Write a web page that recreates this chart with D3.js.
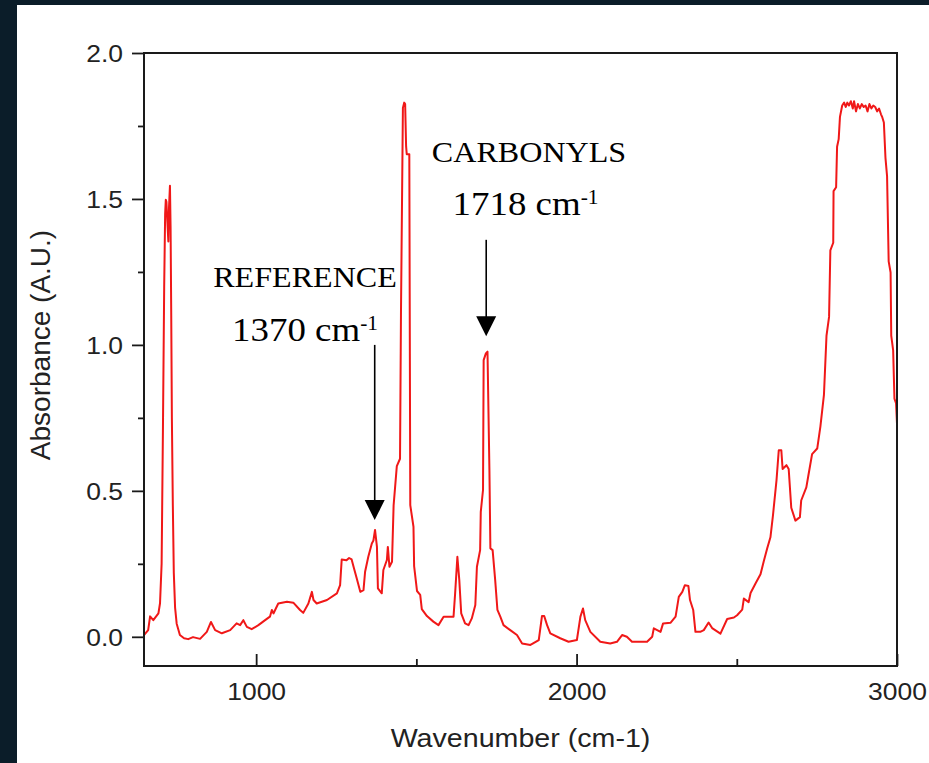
<!DOCTYPE html>
<html>
<head>
<meta charset="utf-8">
<script src="https://cdn.jsdelivr.net/npm/d3@7"></script>
<style>
  html, body { margin: 0; padding: 0; background: #0b1d29; }
  svg { display: block; }
</style>
</head>
<body>
<svg id="chart" width="929" height="763"></svg>
<script>
// ---------- data ----------
const wavenumbers = [
  650,663,669,679,695,700,705,709,713,716,718,720,723,726,728,731,733,735,737,740,743,747,752,762,775,788,803,825,846,859,872,893,919,939,950,960,971,986,
  1007,1028,1043,1049,1054,1069,1096,1116,1137,1147,1163,1174,1179,1189,1221,1252,1262,1267,1282,1290,1298,1304,1314,1325,1335,1340,1350,1361,1366,1371,1377,1380,1392,1397,1408,1411,1416,1424,1429,1439,1449,1452,1458,1462,1465,1468,1470,1478,1481,1491,1493,
  1502,1512,1517,1533,1553,1569,1585,1616,1621,1628,1634,1640,1652,1663,1673,1684,1689,1699,1701,1708,1710,1717,1722,1728,1731,1738,1746,1753,1762,1772,1793,1814,1830,1856,1882,1892,1899,1908,1918,1949,1975,
  2001,2012,2020,2027,2043,2074,2105,2126,2142,2157,2173,2220,2236,2241,2262,2270,2293,2309,2319,2330,2338,2349,2354,2364,2371,2386,2397,2412,2423,2449,2470,2491,
  2501,2517,2522,2537,2543,2558,2574,2584,2595,2605,2613,2624,2631,2639,2643,2655,2662,2670,2683,2697,2701,2717,2723,2735,2751,2761,2772,2780,2788,2792,2801,2802,2810,2813,2818,2822,2829,2835,2840,2845,2850,2856,2862,2866,2872,2878,2884,2890,2896,2902,2908,2914,2920,2926,2932,2938,2944,2950,2954,2959,2964,2969,2974,2980,2982,2988,2992,2997,3000
];
const absorbance = [
  0.006,0.023,0.07,0.057,0.08,0.115,0.25,0.7,1.2,1.45,1.497,1.49,1.42,1.354,1.47,1.545,1.4,1.1,0.75,0.45,0.22,0.1,0.045,0.006,-0.005,-0.008,-0.001,-0.007,0.017,0.051,0.023,0.012,0.023,0.046,0.04,0.057,0.034,0.026,
  0.04,0.057,0.069,0.092,0.08,0.114,0.12,0.117,0.092,0.082,0.114,0.154,0.126,0.114,0.126,0.149,0.177,0.265,0.262,0.27,0.265,0.24,0.2,0.154,0.16,0.223,0.274,0.32,0.33,0.366,0.308,0.166,0.149,0.229,0.263,0.308,0.24,0.257,0.45,0.585,0.61,1.113,1.812,1.83,1.825,1.68,1.653,1.653,0.451,0.377,0.242,
  0.157,0.144,0.095,0.071,0.052,0.04,0.069,0.069,0.149,0.274,0.194,0.08,0.046,0.04,0.063,0.109,0.24,0.297,0.428,0.503,0.948,0.971,0.977,0.571,0.303,0.297,0.194,0.092,0.069,0.04,0.023,0.006,-0.023,-0.028,-0.011,0.071,0.071,0.04,0.012,-0.005,-0.017,
  -0.011,0.069,0.097,0.057,0.017,-0.017,-0.023,-0.017,0.006,0,-0.017,-0.017,0,0.029,0.017,0.046,0.048,0.069,0.137,0.154,0.177,0.174,0.126,0.092,0.017,0.017,0.023,0.049,0.03,0.011,0.061,0.066,
  0.074,0.093,0.131,0.119,0.15,0.182,0.214,0.258,0.303,0.341,0.417,0.537,0.639,0.639,0.575,0.588,0.575,0.442,0.398,0.41,0.467,0.512,0.55,0.626,0.645,0.721,0.829,1.032,1.096,1.324,1.35,1.527,1.54,1.679,1.705,1.781,1.82,1.83,1.815,1.83,1.82,1.835,1.81,1.835,1.80,1.825,1.81,1.825,1.815,1.82,1.80,1.825,1.81,1.82,1.815,1.80,1.81,1.79,1.78,1.762,1.641,1.578,1.286,1.248,1.032,0.981,0.816,0.80,0.73
];
const xMajorTicks = [1000, 2000, 3000];
const xMinorTicks = [1500, 2500];
const yMajorTicks = [0.0, 0.5, 1.0, 1.5, 2.0];
const yMinorTicks = [0.25, 0.75, 1.25, 1.75];
const xTitle = "Wavenumber (cm-1)";
const yTitle = "Absorbance (A.U.)";
// annotations: label lines, arrow x (wavenumber), arrow start/end (absorbance)
const annoLabels = ["CARBONYLS", "REFERENCE"];
const annoWavenumbers = ["1718", "1370"];
const annoArrowX = [1718, 1370];
const annoArrowFrom = [1.36, 1.0];
const annoArrowTo = [1.03, 0.40];

// ---------- layout ----------
const W = 929, H = 763;
const plot = { left: 144, right: 897, top: 53, bottom: 666 };
const STRETCH = 1.08;

const svg = d3.select("#chart");
svg.append("rect").attr("x", 0).attr("y", 0).attr("width", W).attr("height", H).attr("fill", "#0b1d29");
svg.append("rect").attr("x", 17).attr("y", 5).attr("width", W - 17).attr("height", H - 5).attr("fill", "#ffffff");

const x = d3.scaleLinear().domain([650, 3000]).range([plot.left, plot.right]);
const y = d3.scaleLinear().domain([-0.1, 2.0]).range([plot.bottom, plot.top]);

const data = wavenumbers.map((w, i) => ({ w, a: absorbance[i] }));

svg.append("clipPath").attr("id", "clip").append("rect")
  .attr("x", plot.left).attr("y", plot.top)
  .attr("width", plot.right - plot.left).attr("height", plot.bottom - plot.top);

// spectrum
const line = d3.line().x(d => x(d.w)).y(d => y(d.a));
svg.append("path").datum(data)
  .attr("clip-path", "url(#clip)")
  .attr("fill", "none").attr("stroke", "#f01818").attr("stroke-width", 2)
  .attr("stroke-linejoin", "round")
  .attr("d", line);

const axisColor = "#1a1a1a";
const tickFont = "'Liberation Sans', Arial, sans-serif";

// x axis major (inward ticks)
const xAxis = svg.append("g").attr("transform", `translate(0,${plot.bottom})`)
  .call(d3.axisBottom(x).tickValues(xMajorTicks).tickSizeInner(-12).tickSizeOuter(0).tickPadding(17).tickFormat(d3.format("d")));
const xAxisMinor = svg.append("g").attr("transform", `translate(0,${plot.bottom})`)
  .call(d3.axisBottom(x).tickValues(xMinorTicks).tickSizeInner(-7).tickSizeOuter(0).tickFormat(""));

// y axis major (outward)
const yAxis = svg.append("g").attr("transform", `translate(${plot.left},0)`)
  .call(d3.axisLeft(y).tickValues(yMajorTicks).tickSizeInner(12).tickSizeOuter(0).tickPadding(7.5).tickFormat(d3.format(".1f")));
const yAxisMinor = svg.append("g").attr("transform", `translate(${plot.left},0)`)
  .call(d3.axisLeft(y).tickValues(yMinorTicks).tickSizeInner(6).tickSizeOuter(0).tickFormat(""));

[xAxis, xAxisMinor, yAxis, yAxisMinor].forEach(g => {
  g.select(".domain").remove();
  g.selectAll(".tick line").attr("stroke", axisColor).attr("stroke-width", 1.8);
  g.selectAll(".tick text").attr("fill", "#222").attr("font-family", tickFont).attr("font-size", 24.5)
    .attr("transform", `scale(${STRETCH},1)`);
});
xAxis.selectAll(".tick text").attr("dy", "0.71em");
yAxis.selectAll(".tick text").attr("dy", "0.35em");

// frame
svg.append("rect")
  .attr("x", plot.left).attr("y", plot.top)
  .attr("width", plot.right - plot.left).attr("height", plot.bottom - plot.top)
  .attr("fill", "none").attr("stroke", axisColor).attr("stroke-width", 2);

// axis titles
svg.append("text")
  .attr("transform", `translate(${(plot.left + plot.right) / 2},747) scale(${STRETCH},1)`)
  .attr("text-anchor", "middle").attr("font-family", tickFont).attr("font-size", 26.5).attr("fill", "#222")
  .text(xTitle);
svg.append("text")
  .attr("transform", `translate(50,345) rotate(-90)`)
  .attr("text-anchor", "middle").attr("font-family", tickFont).attr("font-size", 28).attr("fill", "#222")
  .text(yTitle);

// annotations
const serif = "'Liberation Serif', 'Times New Roman', serif";
const annoPos = [
  { cx: 529, labelY: 161.7, numY: 215, numCx: 525.5 },
  { cx: 305, labelY: 286.7, numY: 340.7, numCx: 305 }
];
annoLabels.forEach((lab, i) => {
  const p = annoPos[i];
  svg.append("text")
    .attr("transform", `translate(${p.cx},${p.labelY}) scale(1.07,1)`)
    .attr("text-anchor", "middle").attr("font-family", serif).attr("font-size", 30).attr("fill", "#000")
    .text(lab);
  const t = svg.append("text")
    .attr("transform", `translate(${p.numCx},${p.numY}) scale(1.07,1)`)
    .attr("text-anchor", "middle").attr("font-family", serif).attr("font-size", 34.5).attr("fill", "#000");
  t.append("tspan").text(annoWavenumbers[i] + " cm");
  t.append("tspan").attr("font-size", 20).attr("dy", -11).text("-1");

  // arrow
  const ax = x(annoArrowX[i]);
  const y0 = y(annoArrowFrom[i]);
  const y1 = y(annoArrowTo[i]);
  svg.append("line").attr("x1", ax).attr("x2", ax).attr("y1", y0).attr("y2", y1 - 15)
    .attr("stroke", "#000").attr("stroke-width", 1.6);
  svg.append("path")
    .attr("d", `M${ax - 10},${y1 - 20} L${ax + 10},${y1 - 20} L${ax},${y1} Z`)
    .attr("fill", "#000");
});
</script>
</body>
</html>
